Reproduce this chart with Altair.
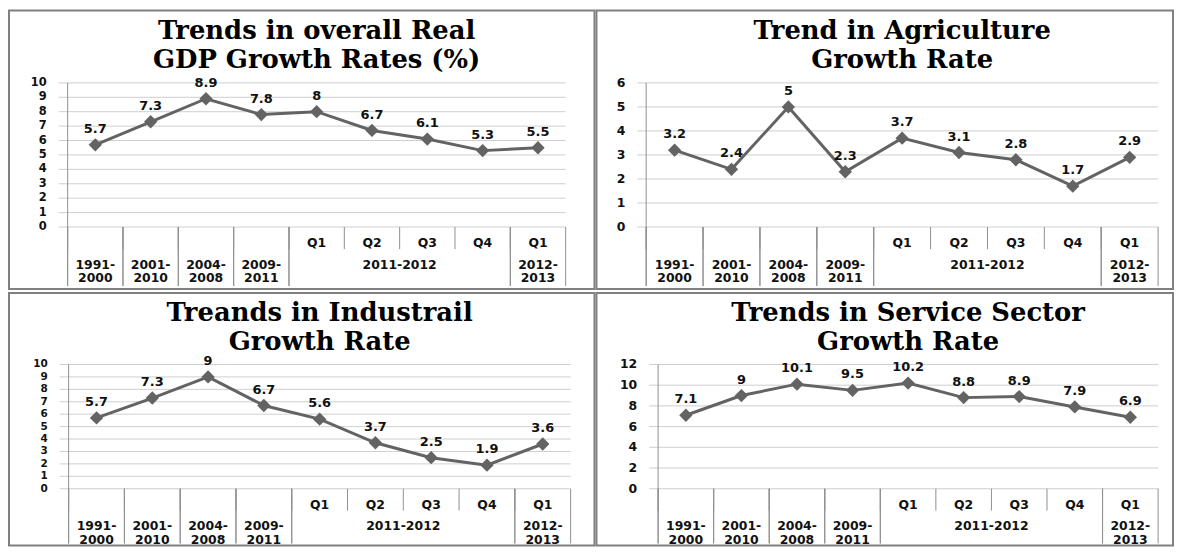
import altair as alt
import pandas as pd

# ---------------- data ----------------
level1 = ["", "", "", "", "Q1", "Q2", "Q3", "Q4", "Q1"]
level2 = ["1991-\n2000", "2001-\n2010", "2004-\n2008", "2009-\n2011",
          "2011-2012", "2011-2012", "2011-2012", "2011-2012", "2012-\n2013"]

gdp = [5.7, 7.3, 8.9, 7.8, 8, 6.7, 6.1, 5.3, 5.5]
agriculture = [3.2, 2.4, 5, 2.3, 3.7, 3.1, 2.8, 1.7, 2.9]
industry = [5.7, 7.3, 9, 6.7, 5.6, 3.7, 2.5, 1.9, 3.6]
services = [7.1, 9, 10.1, 9.5, 10.2, 8.8, 8.9, 7.9, 6.9]

title_gdp = ["Trends in overall Real", "GDP Growth Rates (%)"]
title_agri = ["Trend in Agriculture", "Growth Rate"]
title_ind = ["Treands in Industrail", "Growth Rate"]
title_serv = ["Trends in Service Sector", "Growth Rate"]

# ---------------- style ----------------
SANS = "DejaVu Sans"
SERIF = "DejaVu Serif"
TXT = "#111111"
LINE = "#636363"
GRID = "#cfcfcf"
SEP = "#8f8f8f"
TICK_LEN = 9

TOP_ROW = dict(H=280, top=72.7, bottom=217.7, q=233.7, yr=249.5, short=240, full=277, title=29)
BOT_ROW = dict(H=254, top=72, bottom=197, q=213, yr=229, short=219, full=252, title=28)


def panel(vals, title, ymax, step, W, pl, pr, g, tick_fs):
    n = len(vals)
    H = g["H"]
    df = pd.DataFrame({"idx": list(range(n)), "q": level1, "grp": level2, "value": vals})
    kx = (pr - pl) / n
    xs = alt.Scale(domain=[-pl / kx, n + (W - pr) / kx], nice=False, zero=False)
    ky = (g["bottom"] - g["top"]) / ymax
    ys = alt.Scale(domain=[-(H - g["bottom"]) / ky, ymax + g["top"] / ky], nice=False, zero=False)
    ticks = list(range(0, ymax + 1, step))
    tick_df = pd.DataFrame({"t": ticks})

    Yt = alt.Y("t:Q", scale=ys, axis=None)
    X0 = alt.XDatum(0, type="quantitative", scale=xs, axis=None)

    # gridlines (extended to the left as the outside tick marks)
    grid = alt.Chart(tick_df).mark_rule(color=GRID, strokeWidth=1).encode(
        y=Yt,
        x=alt.XDatum(-TICK_LEN / kx, type="quantitative", scale=xs, axis=None),
        x2=alt.X2Datum(n),
    )
    tick_lab = alt.Chart(tick_df).mark_text(
        font=SANS, fontWeight="bold", fontSize=tick_fs, color=TXT, align="right",
        baseline="middle", dx=-(TICK_LEN + 12)).encode(x=X0, y=Yt, text="t:Q")

    base = alt.Chart(df).transform_calculate(c="datum.idx + 0.5")
    X = alt.X("c:Q", scale=xs, axis=None)
    Yv = alt.Y("value:Q", scale=ys, axis=None)
    Y0 = alt.YDatum(0, type="quantitative", scale=ys, axis=None)

    grp_base = (alt.Chart(df)
                .transform_calculate(c="datum.idx + 0.5")
                .transform_aggregate(xc="mean(c)", start="min(idx)", last="max(idx)", groupby=["grp"])
                .transform_calculate(end="datum.last + 1"))

    short = base.mark_rule(color=SEP, strokeWidth=1).encode(
        x=alt.X("idx:Q", scale=xs, axis=None), y=Y0, y2=alt.value(g["short"]))
    full_a = grp_base.mark_rule(color=SEP, strokeWidth=1).encode(
        x=alt.X("start:Q", scale=xs, axis=None), y=Y0, y2=alt.value(g["full"]))
    full_b = grp_base.mark_rule(color=SEP, strokeWidth=1).encode(
        x=alt.X("end:Q", scale=xs, axis=None), y=Y0, y2=alt.value(g["full"]))
    left = alt.Chart(pd.DataFrame({"t": [ymax]})).mark_rule(color=SEP, strokeWidth=1).encode(
        x=X0, y=Yt, y2=alt.value(g["full"]))

    line = base.mark_line(color=LINE, strokeWidth=3).encode(x=X, y=Yv, order="idx:Q")
    pts = base.mark_point(shape="diamond", filled=True, size=180, color=LINE, opacity=1).encode(x=X, y=Yv)
    vlab = base.mark_text(font=SANS, fontWeight="bold", fontSize=13, color=TXT, dy=-16,
                          baseline="middle").encode(x=X, y=Yv, text="value:Q")
    qlab = base.mark_text(font=SANS, fontWeight="bold", fontSize=12.5, color=TXT,
                          baseline="middle").encode(x=X, y=alt.value(g["q"]), text="q:N")
    ylab = grp_base.mark_text(font=SANS, fontWeight="bold", fontSize=12.5, color=TXT,
                              baseline="top", lineBreak="\n", lineHeight=13.4).encode(
        x=alt.X("xc:Q", scale=xs, axis=None), y=alt.value(g["yr"]), text="grp:N")
    ttl = alt.Chart(pd.DataFrame({"t": ["\n".join(title)]})).mark_text(
        font=SERIF, fontWeight="bold", fontSize=26, lineBreak="\n", lineHeight=29,
        baseline="alphabetic", align="center", color="#000000").encode(
        x=alt.XDatum(n / 2, type="quantitative", scale=xs, axis=None),
        y=alt.value(g["title"]), text="t:N")

    return alt.layer(grid, short, full_a, full_b, left, tick_lab, line, pts, vlab, qlab, ylab,
                     ttl).properties(width=W, height=H)


tl = panel(gdp, title_gdp, 10, 1, 589, 59, 560, TOP_ROW, 11.5)
tr = panel(agriculture, title_agri, 6, 1, 580, 50, 565, TOP_ROW, 12.5)
bl = panel(industry, title_ind, 10, 1, 589, 60, 565, BOT_ROW, 10.5)
br = panel(services, title_serv, 12, 2, 580, 62, 565, BOT_ROW, 12.5)

chart = alt.vconcat(
    alt.hconcat(tl, tr, spacing=0),
    alt.hconcat(bl, br, spacing=0),
    spacing=2,
).properties(padding=0).configure_view(stroke="#808080", strokeWidth=2)

chart.save("out.html", embed_options={"renderer": "svg", "actions": False})
